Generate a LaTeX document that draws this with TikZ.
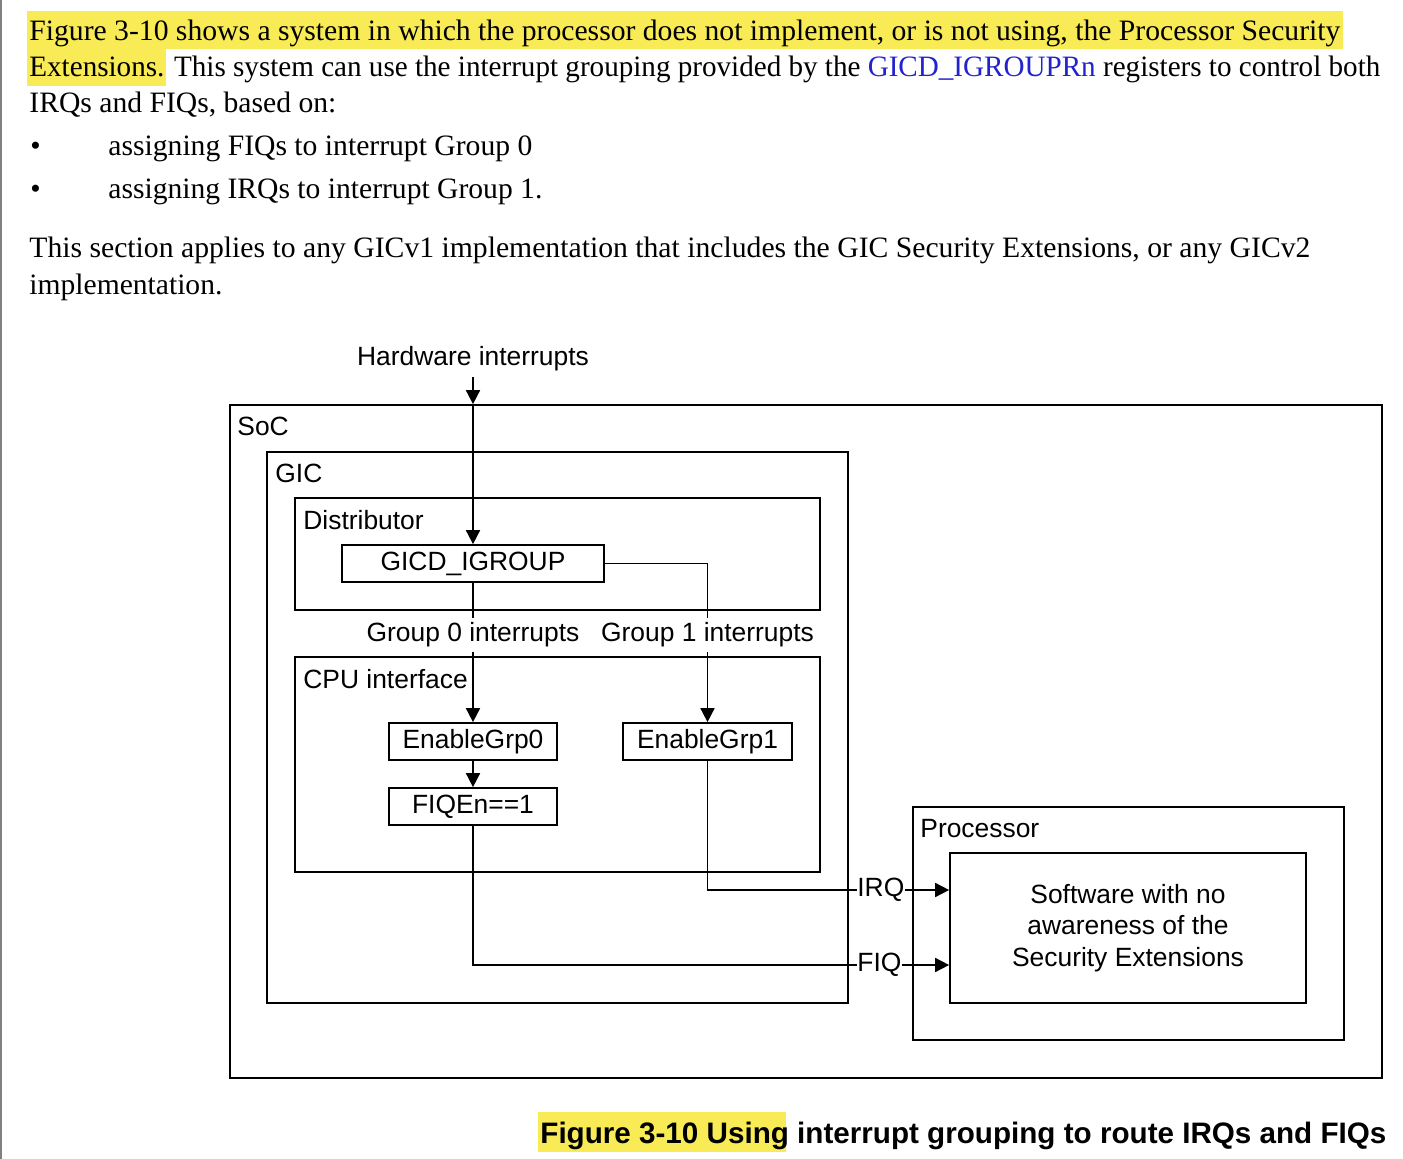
\documentclass[tikz,border=0pt]{standalone}
\usepackage{fontspec}
\setmainfont{Liberation Serif}
\setsansfont{Liberation Sans}
\usetikzlibrary{arrows.meta}
\definecolor{hl}{RGB}{248,235,85}
\definecolor{linkblue}{RGB}{35,35,205}
\newsavebox\fitbox
\newcommand\fitto[2]{\sbox\fitbox{#2}\pgfmathsetmacro\fitratio{#1/\wd\fitbox}\scalebox{\fitratio}[1]{\usebox\fitbox}}
\begin{document}
\begin{tikzpicture}[x=0.5pt,y=-0.5pt,
  dfont/.style={font=\sffamily\fontsize{13.2}{15.75}\selectfont},
  box/.style={draw, line width=0.85pt, inner sep=0pt, dfont},
  lbl/.style={anchor=west, inner sep=0pt, dfont},
  glab/.style={anchor=base, fill=white, inner sep=2pt, dfont},
  sig/.style={anchor=west, inner sep=0pt, dfont},
  wire/.style={line width=0.85pt},
  arr/.style={line width=0.85pt, -{Triangle[length=7pt,width=7pt]}},
  body/.style={anchor=base west, inner sep=0pt, font=\fontsize{14.8}{17}\selectfont}]
\useasboundingbox (0,0) rectangle (1403,1159);
\draw[gray, line width=1pt] (0.5,0) -- (0.5,1159);
% highlights
\fill[hl] (27,11) rectangle (1343,49);
\fill[hl] (27,49) rectangle (166,86);
\fill[hl] (538,1112) rectangle (786,1152);
% body text
\node[body] (p1) at (29,41) {\fitto{655.5pt}{Figure 3-10 shows a system in which the processor does not implement, or is not using, the Processor Security}};
\node[body] (p2) at (29,77) {\fitto{675.5pt}{Extensions. This system can use the interrupt grouping provided by the \textcolor{linkblue}{GICD\_IGROUPRn} registers to control both}};
\node[body] (p3) at (29,113) {\fitto{153.5pt}{IRQs and FIQs, based on:}};
\node[body] (b1) at (30,156) {\textbullet};
\node[body] (l1) at (108,156) {\fitto{212pt}{assigning FIQs to interrupt Group 0}};
\node[body] (b2) at (30,199) {\textbullet};
\node[body] (l2) at (108,199) {\fitto{217pt}{assigning IRQs to interrupt Group 1.}};
\node[body] (p4) at (29,258) {\fitto{640.5pt}{This section applies to any GICv1 implementation that includes the GIC Security Extensions, or any GICv2}};
\node[body] (p5) at (29,295) {\fitto{96.5pt}{implementation.}};
% caption
\node[anchor=base west, inner sep=0pt, font=\sffamily\bfseries\fontsize{14.8}{17}\selectfont] (cap) at (540,1143) {\fitto{423pt}{Figure 3-10 Using interrupt grouping to route IRQs and FIQs}};
% containers
\node[box, minimum width=576pt, minimum height=336.5pt] (soc) at (806,741.5) {};
\node[box, minimum width=290.5pt, minimum height=275.5pt] (gic) at (557.5,727.5) {};
\node[box, minimum width=262.5pt, minimum height=56pt] (dist) at (557.5,554) {};
\node[box, minimum width=262.5pt, minimum height=107.5pt] (cpu) at (557.5,764.5) {};
\node[box, minimum width=215.5pt, minimum height=116.5pt] (proc) at (1128.5,923.5) {};
\node[lbl] (soct) at (237,426) {SoC};
\node[lbl] (gict) at (275,473) {GIC};
\node[lbl] (distt) at (303,520) {Distributor};
\node[lbl] (cput) at (303,679) {CPU interface};
\node[lbl] (proct) at (920,829) {Processor};
% inner boxes
\node[box, minimum width=131pt, minimum height=18.5pt] (g) at (473,563.5) {GICD\_IGROUP};
\node[box, minimum width=84pt, minimum height=18.5pt] (eg0) at (473,741.5) {EnableGrp0};
\node[box, minimum width=84.5pt, minimum height=18.5pt] (eg1) at (707.5,741.5) {EnableGrp1};
\node[box, minimum width=84pt, minimum height=18.5pt] (fq) at (473,806.5) {FIQEn==1};
\node[box, minimum width=178pt, minimum height=75pt, align=center] (sw) at (1128,928) {Software with no\\awareness of the\\Security Extensions};
% wires
\node[anchor=base, inner sep=2.5pt, dfont] (hw) at (473,366) {Hardware interrupts};
\draw[arr] (hw.south) -- (hw.south |- soc.north);
\draw[arr] (hw.south |- soc.north) -- (g.north);
\node[glab] (g0) at (473,642) {Group 0 interrupts};
\node[glab] (g1) at (707.5,642) {Group 1 interrupts};
\draw[wire] (g.south) -- (g0.north);
\draw[arr] (g0.south) -- (eg0.north);
\draw[wire] (g.east) -| (g1.north);
\draw[arr] (g1.south) -- (eg1.north);
\draw[arr] (eg0.south) -- (fq.north);
\node[sig] (irq) at (857,890) {IRQ};
\node[sig] (fiq) at (857,965) {FIQ};
\draw[wire] (eg1.south) |- (irq.west);
\draw[arr] (irq.east) -- (irq.east -| sw.west);
\draw[wire] (fq.south) |- (fiq.west);
\draw[arr] (fiq.east) -- (fiq.east -| sw.west);
\end{tikzpicture}
\end{document}
